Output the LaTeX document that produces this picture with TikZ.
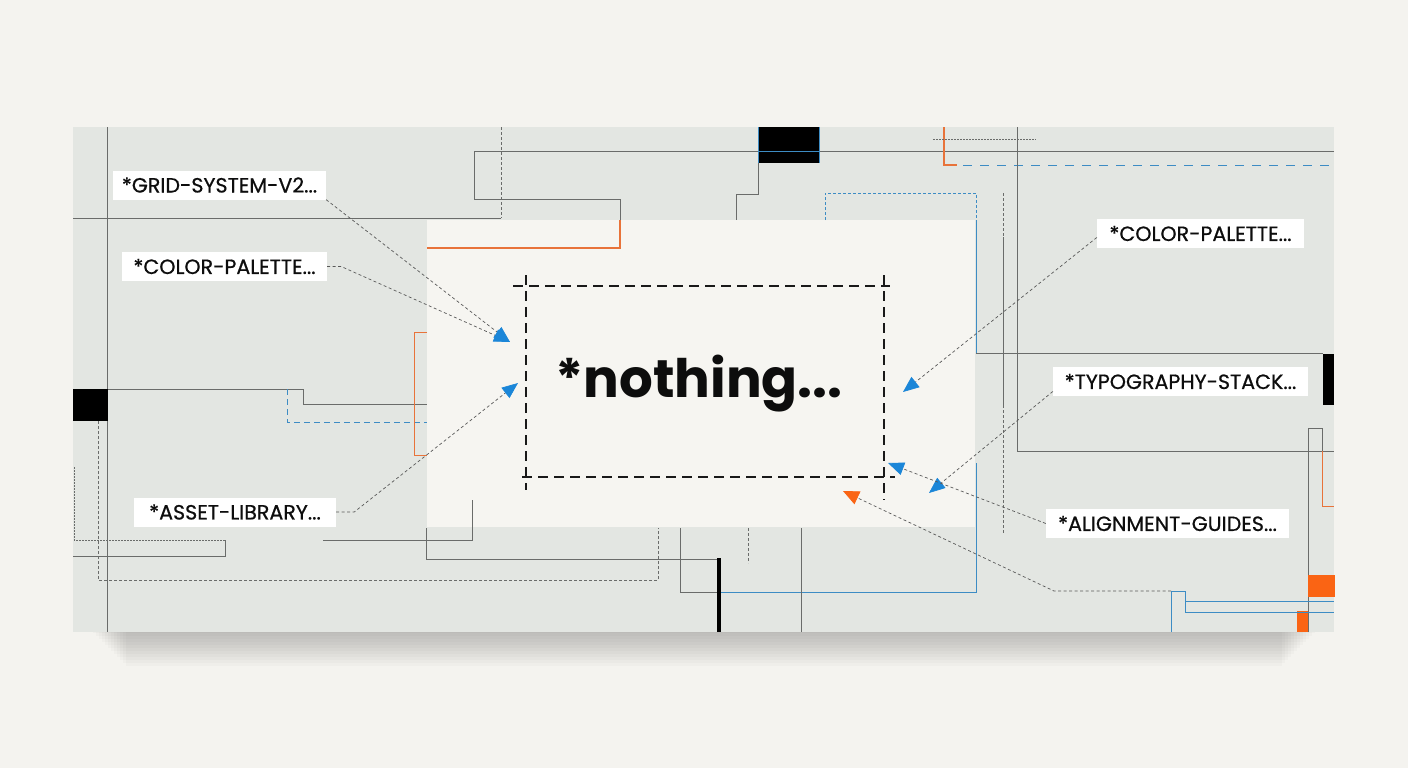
\documentclass[tikz,border=0pt]{standalone}
\usepackage{fontspec}
\setmainfont{Poppins}
\newfontfamily\labfont{Poppins}[FakeBold=0.6]
\usetikzlibrary{arrows.meta}
\definecolor{bg}{HTML}{F4F3EF}
\definecolor{panel}{HTML}{E3E6E2}
\definecolor{paper}{HTML}{F6F5F1}
\definecolor{gline}{HTML}{6A6C6A}
\definecolor{bline}{HTML}{3D8CC4}
\definecolor{barrow}{HTML}{1B86D8}
\definecolor{oline}{HTML}{E8733A}
\definecolor{ofill}{HTML}{FA6414}
\begin{document}
\begin{tikzpicture}[x=1pt,y=-1pt,
  gl/.style={draw=gline, line width=0.8pt},
  bl/.style={draw=bline, line width=0.9pt},
  ol/.style={draw=oline, line width=1.1pt},
  smalldash/.style={dash pattern=on 3pt off 2pt},
  meddash/.style={dash pattern=on 6pt off 4pt},
  longdash/.style={dash pattern=on 9pt off 8pt},
  boxdash/.style={draw=black!90, line width=1.4pt, dash pattern=on 10pt off 6pt},
  conn/.style={draw=black!65, line width=0.7pt, dash pattern=on 3pt off 2.5pt},
  tipb/.style={-{Triangle[length=16pt,width=13pt,color=barrow]}},
  tipo/.style={-{Triangle[length=16pt,width=14pt,color=ofill]}},
  lab/.style={fill=white, text=black!95, inner sep=0pt, minimum height=29pt,
    font=\labfont\fontsize{20.6}{23}\selectfont},
]
\useasboundingbox (0,0) rectangle (1408,768);
\fill[bg] (0,0) rectangle (1408,768);
% shadow
\foreach \i in {1,...,12}{
  \fill[black, opacity=0.018] (90+\i*3,600) rectangle (1318-\i*3,630+\i*3);
}
% panels
\fill[panel] (73,127) rectangle (1334,632);
\fill[paper] (427,220) rectangle (975,527);

% ---- top-left structure
\draw[gl] (107,127) -- (107,632);
\draw[gl] (73,218) -- (501,218);
\draw[gl, smalldash] (501,127) -- (501,218);
\draw[gl] (1334,151) -- (474,151) -- (474,199) -- (620,199) -- (620,220);
\draw[ol] (620,220) -- (620,248) -- (427,248);
% black block top
\fill[black] (758,127) rectangle (819,163);
\draw[bl] (758,127) -- (758,163);
\draw[bl] (819,127) -- (819,163);
\draw[bl] (758,151) -- (819,151);
\draw[gl] (758,163) -- (758,194) -- (736,194) -- (736,220);
% blue dashed frame
\draw[bl, line width=0.7pt, smalldash] (825,220) -- (825,193) -- (976,193) -- (976,220);
\draw[bl] (976,220) -- (976,353);
\draw[gl] (976,353) -- (1323,353);
\fill[black] (1323,354) rectangle (1334,405);
% top right
\draw[ol] (944,127) -- (944,165) -- (957,165);
\draw[bl, longdash] (963,165) -- (1334,165);
\draw[gl, line width=0.6pt, dash pattern=on 1.5pt off 1.5pt] (933,139) -- (1036,139);
\draw[gl] (1017,127) -- (1017,451) -- (1334,451);
\draw[gl, smalldash] (1003,193) -- (1003,237);
\draw[gl] (1003,237) -- (1003,405);
\draw[gl, smalldash] (1003,405) -- (1003,533);
% right edge
\draw[gl] (1308,632) -- (1308,428) -- (1322,428) -- (1322,451);
\draw[ol, line width=0.9pt] (1322,451) -- (1322,506) -- (1334,506);
\fill[ofill] (1308,575) rectangle (1335,597);
\fill[ofill] (1297,611) rectangle (1308,632);
\draw[bl] (1171,632) -- (1171,591) -- (1185,591) -- (1185,612) -- (1334,612);
\draw[bl] (1185,601) -- (1334,601);
% bottom middle
\draw[bl] (976,463) -- (976,592) -- (719,592);
\draw[gl] (719,592) -- (680,592) -- (680,528);
\draw[gl] (426,528) -- (426,559) -- (719,559);
\draw[black, line width=3.5pt] (719,558) -- (719,632);
\draw[gl, smalldash] (748,528) -- (748,563);
\draw[gl] (801,528) -- (801,632);
% bottom left
\draw[gl, smalldash] (98,421) -- (98,580) -- (658,580) -- (658,528);
\draw[gl, dash pattern=on 1.5pt off 1.5pt] (74,467) -- (74,540) -- (225,540);
\draw[gl] (225,540) -- (225,556) -- (73,556);
\draw[gl] (323,540) -- (472,540) -- (472,500);
% left middle
\fill[black] (73,389) rectangle (108,421);
\draw[gl] (108,389) -- (303,389) -- (303,404) -- (427,404);
\draw[bl, meddash] (287,389) -- (287,422) -- (427,422);
\draw[ol, line width=0.8pt] (427,332) -- (414,332) -- (414,455) -- (427,455);

% ---- central dashed box
\draw[boxdash] (513,286) -- (890,286);
\draw[boxdash] (526,275) -- (526,490);
\draw[boxdash] (884,275) -- (884,500);
\draw[boxdash] (522,477) -- (895,477);
\node[font=\bfseries\fontsize{53}{60}\selectfont, text=black!95, inner sep=0pt] (main) at (699,384) {*nothing...};

% ---- labels
\node[lab, minimum width=213pt] (grid)  at (219.5,185)   {*GRID-SYSTEM-V2...};
\node[lab, minimum width=205pt] (cpl)   at (224.5,266.5) {*COLOR-PALETTE...};
\node[lab, minimum width=202pt] (asset) at (235,512)     {*ASSET-LIBRARY...};
\node[lab, minimum width=207pt] (cpr)   at (1200.5,233.5){*COLOR-PALETTE...};
\node[lab, minimum width=255pt] (typo)  at (1180.5,381.5){*TYPOGRAPHY-STACK...};
\node[lab, minimum width=243pt] (align) at (1167.5,523.5){*ALIGNMENT-GUIDES...};

% ---- connectors
\coordinate (a1) at (510,342);
\coordinate (a2) at (518,383);
\coordinate (a3) at (903,392);
\coordinate (a4) at (929,493);
\coordinate (a5) at (888,463);
\coordinate (o0) at (1171,591);
\coordinate (a6) at (843,491);
\draw[conn, tipb] (grid.south east) -- (a1);
\draw[conn, tipb] (cpl.east) -- ++(14,0) -- (a1);
\draw[conn, tipb] (asset.east) -- ++(18,0) -- (a2);
\draw[conn, tipb] ([yshift=-4pt]cpr.west) -- (a3);
\draw[conn, tipb] ([yshift=-10pt]typo.west) -- (a4);
\draw[conn, tipb] (align.west) -- (a5);
\draw[conn, tipo] (o0) -- (1054,591) -- (a6);
\end{tikzpicture}
\end{document}
